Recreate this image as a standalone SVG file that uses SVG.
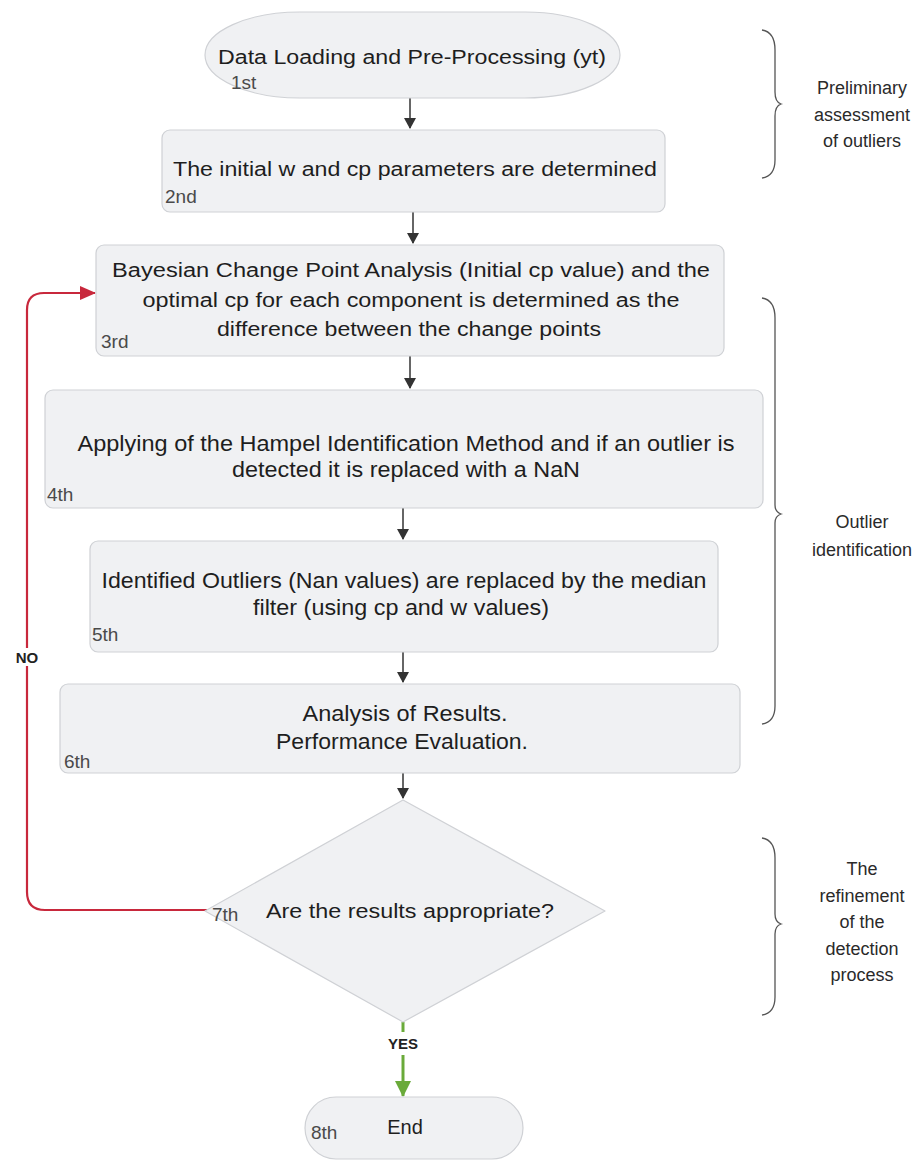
<svg xmlns="http://www.w3.org/2000/svg" width="921" height="1161" viewBox="0 0 921 1161">
<style>
.box{fill:#f0f1f3;stroke:#cfd1d5;stroke-width:1.2}
.t{font-family:"Liberation Sans",Arial,sans-serif;font-size:20px;fill:#1e1e1e;text-anchor:middle}
.tc{font-family:"Liberation Sans",Arial,sans-serif;font-size:22px;fill:#1e1e1e;text-anchor:middle}
.n{font-family:"Liberation Sans",Arial,sans-serif;font-size:19px;fill:#4a4a4a}
.b{font-family:"Liberation Sans",Arial,sans-serif;font-size:18px;fill:#2a2a2a;text-anchor:middle}
.lab{font-family:"Liberation Sans",Arial,sans-serif;font-size:15px;font-weight:bold;fill:#222;text-anchor:middle}
.c{fill:none;stroke:#333;stroke-width:1.5}
.br{fill:none;stroke:#555;stroke-width:1.3}
</style>
<defs>
<marker id="ah" markerWidth="11" markerHeight="12" refX="10" refY="6" orient="auto" markerUnits="userSpaceOnUse"><path d="M0,0 L11,6 L0,12 Z" fill="#333"/></marker>
<marker id="ahr" markerWidth="16" markerHeight="14" refX="15" refY="7" orient="auto" markerUnits="userSpaceOnUse"><path d="M0,0 L16,7 L0,14 Z" fill="#c8283c"/></marker>
<marker id="ahg" markerWidth="16" markerHeight="16" refX="15" refY="8" orient="auto" markerUnits="userSpaceOnUse"><path d="M0,0 L16,8 L0,16 Z" fill="#6aaa3a"/></marker>
</defs>
<rect width="921" height="1161" fill="#ffffff"/>

<g id="connectors">
<path class="c" d="M410,98 V128" marker-end="url(#ah)"/>
<path class="c" d="M413,212 V243" marker-end="url(#ah)"/>
<path class="c" d="M410,356 V388" marker-end="url(#ah)"/>
<path class="c" d="M403,508 V539" marker-end="url(#ah)"/>
<path class="c" d="M403,652 V682" marker-end="url(#ah)"/>
<path class="c" d="M403,773 V798" marker-end="url(#ah)"/>
<path d="M207,910 H45 Q27,910 27,892 V666" fill="none" stroke="#c8283c" stroke-width="2.2"/>
<path d="M27,648 V310 Q27,293 44,293 H95" fill="none" stroke="#c8283c" stroke-width="2.2" marker-end="url(#ahr)"/>
<text class="lab" x="27" y="663">NO</text>
<path d="M403,1022 V1032" fill="none" stroke="#6aaa3a" stroke-width="3"/>
<path d="M403,1055 V1096" fill="none" stroke="#6aaa3a" stroke-width="3" marker-end="url(#ahg)"/>
<text class="lab" x="403" y="1049">YES</text>
</g>

<g id="node1">
<rect class="box" x="205" y="12" width="415" height="86" rx="95" ry="43"/>
<text class="t" x="412" y="64" textLength="388" lengthAdjust="spacingAndGlyphs">Data Loading and Pre-Processing (yt)</text>
<text class="n" x="231" y="89">1st</text>
</g>

<g id="node2">
<rect class="box" x="162" y="130" width="503" height="82" rx="8"/>
<text class="t" x="415" y="176" textLength="484" lengthAdjust="spacingAndGlyphs">The initial w and cp parameters are determined</text>
<text class="n" x="165" y="203">2nd</text>
</g>

<g id="node3">
<rect class="box" x="96" y="245" width="628" height="111" rx="8"/>
<text class="t" x="411" y="277" textLength="598" lengthAdjust="spacingAndGlyphs">Bayesian Change Point Analysis (Initial cp value)  and the</text>
<text class="t" x="411" y="307" textLength="537" lengthAdjust="spacingAndGlyphs">optimal cp for each component is determined as the</text>
<text class="t" x="409" y="336" textLength="384" lengthAdjust="spacingAndGlyphs">difference between the change points</text>
<text class="n" x="101" y="348">3rd</text>
</g>

<g id="node4">
<rect class="box" x="45" y="390" width="718" height="118" rx="8"/>
<text class="tc" x="406" y="451" textLength="657" lengthAdjust="spacingAndGlyphs">Applying of the Hampel Identification Method and if an outlier is</text>
<text class="tc" x="406" y="477" textLength="348" lengthAdjust="spacingAndGlyphs">detected it is replaced with a NaN</text>
<text class="n" x="47" y="501">4th</text>
</g>

<g id="node5">
<rect class="box" x="90" y="541" width="628" height="111" rx="8"/>
<text class="tc" x="404" y="588" textLength="605" lengthAdjust="spacingAndGlyphs">Identified Outliers (Nan values) are replaced by the median</text>
<text class="tc" x="401" y="615" textLength="296" lengthAdjust="spacingAndGlyphs">filter (using cp and w values)</text>
<text class="n" x="92" y="641">5th</text>
</g>

<g id="node6">
<rect class="box" x="60" y="684" width="680" height="89" rx="8"/>
<text class="tc" x="405" y="721" textLength="205" lengthAdjust="spacingAndGlyphs">Analysis of Results.</text>
<text class="tc" x="402" y="749" textLength="252" lengthAdjust="spacingAndGlyphs">Performance Evaluation.</text>
<text class="n" x="64" y="768">6th</text>
</g>

<g id="node7">
<path class="box" d="M403,800 L605,911 L403,1022 L205,911 Z" stroke-linejoin="round"/>
<text class="t" x="410" y="918" textLength="288" lengthAdjust="spacingAndGlyphs">Are the results appropriate?</text>
<text class="n" x="212" y="921">7th</text>
</g>

<g id="node8">
<rect class="box" x="305" y="1097" width="218" height="62" rx="31"/>
<text class="t" x="405" y="1134">End</text>
<text class="n" x="311" y="1139">8th</text>
</g>

<g id="bracket1">
<path class="br" d="M762,30 Q775,32 775,50 V92 Q775,102 781,104 Q775,106 775,116 V160 Q775,176 762,178"/>
<text class="b" x="862" y="94">Preliminary</text>
<text class="b" x="862" y="121">assessment</text>
<text class="b" x="862" y="147">of outliers</text>
</g>

<g id="bracket2">
<path class="br" d="M762,298 Q775,300 775,318 V505 Q775,512 781,514 Q775,516 775,523 V706 Q775,722 762,724"/>
<text class="b" x="862" y="528">Outlier</text>
<text class="b" x="862" y="556">identification</text>
</g>

<g id="bracket3">
<path class="br" d="M762,838 Q775,840 775,858 V914 Q775,922 781,924 Q775,926 775,934 V997 Q775,1013 762,1015"/>
<text class="b" x="862" y="875">The</text>
<text class="b" x="862" y="902">refinement</text>
<text class="b" x="862" y="928">of the</text>
<text class="b" x="862" y="955">detection</text>
<text class="b" x="862" y="981">process</text>
</g>
</svg>
